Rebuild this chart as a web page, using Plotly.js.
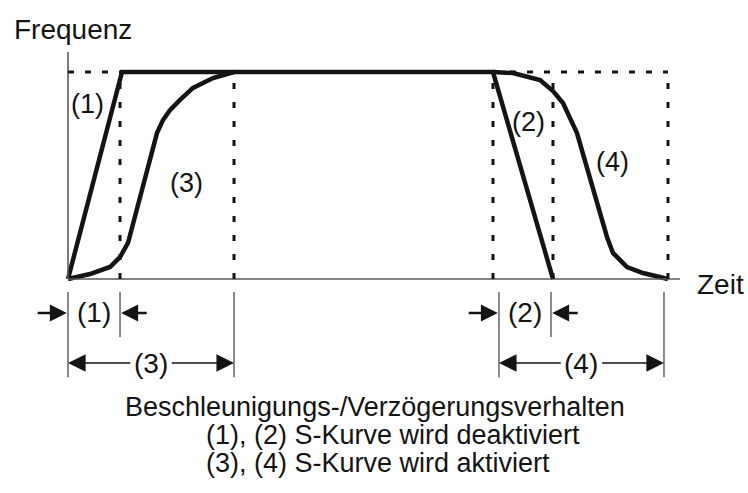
<!DOCTYPE html>
<html>
<head>
<meta charset="utf-8">
<script src="https://cdn.plot.ly/plotly-3.0.1.min.js"></script>
<style>
  html, body { margin: 0; padding: 0; background: #fff; }
  #chart { width: 748px; height: 493px; }
</style>
</head>
<body>
<div id="chart"></div>
<script>
// Time axis: 0 = start of acceleration, 10 = end of S-curve deceleration.
// Frequency axis: percent of the target frequency.

// (1) linear acceleration, plateau, (2) linear deceleration
const linTime = [0, 0.9, 7.083, 8.083];
const linFreq = [0, 100, 100, 0];

// (3) S-curve acceleration
const sAccTime = [0, 0.367, 0.7, 0.867, 1.0, 1.483, 1.583, 1.7, 1.867, 2.083, 2.417, 2.767];
const sAccFreq = [0, 2.4, 5.8, 10.6, 17.4, 70.5, 76.8, 81.6, 86.5, 92.3, 97.1, 100];

// (4) S-curve deceleration
const sDecTime = [7.083, 7.417, 7.867, 8.083, 8.25, 8.483, 8.983, 9.083, 9.317, 9.583, 10.0];
const sDecFreq = [100, 99.5, 96.1, 90.8, 85.0, 70.5, 20.3, 12.6, 5.8, 2.9, 0];

// Dotted guide lines at the end points of each ramp
const guideTimes = [0.867, 2.767, 7.083, 8.083, 10.0];
const topFreq = 100;

// Dimension markers below the time axis
const dimShort = [[0, 0.867], [7.183, 8.05]];   // (1), (2)
const dimLong = [[0, 2.767], [7.183, 9.933]];   // (3), (4)
const dimShortLabels = ['(1)', '(2)'];
const dimLongLabels = ['(3)', '(4)'];

// Curve labels
const curveLabels = ['(1)', '(3)', '(2)', '(4)'];
const curveLabelTime = [0.317, 1.983, 7.683, 9.083];
const curveLabelFreq = [84.5, 46.4, 75.8, 56.5];

const axisTitleY = 'Frequenz';
const axisTitleX = 'Zeit';
const captionLines = [
  'Beschleunigungs-/Verzögerungsverhalten',
  '(1), (2) S-Kurve wird deaktiviert',
  '(3), (4) S-Kurve wird aktiviert'
];

const FONT = 'Liberation Sans, Arial, sans-serif';
const INK = '#141414';
const AXIS = '#5a5a5a';

const shapes = [];
// axes
shapes.push({type: 'line', x0: 0, x1: 0, y0: 0, y1: 109.7, line: {color: AXIS, width: 1.6}});
shapes.push({type: 'line', x0: 0, x1: 10.2, y0: 0, y1: 0, line: {color: AXIS, width: 1.6}});
// top dashed level
shapes.push({type: 'line', x0: 0, x1: guideTimes[4], y0: topFreq, y1: topFreq,
  line: {color: INK, width: 3, dash: '6px,11px'}});
// vertical dotted guides
guideTimes.forEach(t => {
  shapes.push({type: 'line', x0: t, x1: t, y0: 0, y1: topFreq,
    line: {color: INK, width: 3, dash: '6px,13px'}});
});
// dimension extension lines
const extTop = -6.3, extShort = -28, extLong = -47.5;
dimShort.forEach(([a, b]) => {
  shapes.push({type: 'line', x0: b, x1: b, y0: extTop, y1: extShort, line: {color: AXIS, width: 1.4}});
});
dimLong.forEach(([a, b]) => {
  shapes.push({type: 'line', x0: a, x1: a, y0: extTop, y1: extLong, line: {color: AXIS, width: 1.4}});
  shapes.push({type: 'line', x0: b, x1: b, y0: extTop, y1: extLong, line: {color: AXIS, width: 1.4}});
});

const annotations = [];
// curve labels
curveLabels.forEach((txt, i) => {
  annotations.push({x: curveLabelTime[i], y: curveLabelFreq[i], text: txt, showarrow: false,
    font: {family: FONT, size: 27, color: INK}});
});
// short dimensions: arrows pointing inward from outside
const rowShort = -16.4;
dimShort.forEach(([a, b], i) => {
  annotations.push({x: (a + b) / 2, y: rowShort, text: dimShortLabels[i], showarrow: false,
    font: {family: FONT, size: 28, color: INK}});
  annotations.push({x: a - 0.02, y: rowShort, ax: a - 0.53, ay: rowShort, axref: 'x', ayref: 'y',
    text: '', showarrow: true, arrowhead: 2, arrowsize: 1.3, arrowwidth: 2.6, arrowcolor: INK, standoff: 0});
  annotations.push({x: b + 0.02, y: rowShort, ax: b + 0.47, ay: rowShort, axref: 'x', ayref: 'y',
    text: '', showarrow: true, arrowhead: 2, arrowsize: 1.3, arrowwidth: 2.6, arrowcolor: INK, standoff: 0});
});
// long dimensions: label centred, arrows pointing outward to the extension lines
const rowLong = -40.6;
dimLong.forEach(([a, b], i) => {
  const mid = (a + b) / 2;
  annotations.push({x: mid, y: rowLong, text: dimLongLabels[i], showarrow: false,
    font: {family: FONT, size: 28, color: INK}});
  annotations.push({x: a, y: rowLong, ax: mid - 0.32, ay: rowLong, axref: 'x', ayref: 'y',
    text: '', showarrow: true, arrowhead: 2, arrowsize: 2.2, arrowwidth: 1.6, arrowcolor: INK, standoff: 0});
  annotations.push({x: b, y: rowLong, ax: mid + 0.32, ay: rowLong, axref: 'x', ayref: 'y',
    text: '', showarrow: true, arrowhead: 2, arrowsize: 2.2, arrowwidth: 1.6, arrowcolor: INK, standoff: 0});
});
// axis titles
annotations.push({xref: 'paper', yref: 'paper', x: 12 / 748, y: 1 - 30 / 493, xanchor: 'left', yanchor: 'middle',
  text: axisTitleY, showarrow: false, font: {family: FONT, size: 28, color: INK}});
annotations.push({xref: 'paper', yref: 'paper', x: 695 / 748, y: 1 - 284 / 493, xanchor: 'left', yanchor: 'middle',
  text: axisTitleX, showarrow: false, font: {family: FONT, size: 28, color: INK}});
// caption
annotations.push({xref: 'paper', yref: 'paper', x: 375 / 748, y: 1 - 407 / 493, xanchor: 'center', yanchor: 'middle',
  text: captionLines[0], showarrow: false, font: {family: FONT, size: 27, color: INK}});
annotations.push({xref: 'paper', yref: 'paper', x: 204 / 748, y: 1 - 435 / 493, xanchor: 'left', yanchor: 'middle',
  text: captionLines[1], showarrow: false, font: {family: FONT, size: 27, color: INK}});
annotations.push({xref: 'paper', yref: 'paper', x: 204 / 748, y: 1 - 463 / 493, xanchor: 'left', yanchor: 'middle',
  text: captionLines[2], showarrow: false, font: {family: FONT, size: 27, color: INK}});

const lineStyle = {color: INK, width: 4.5};
const traces = [
  {x: linTime, y: linFreq, mode: 'lines', line: lineStyle, hoverinfo: 'skip'},
  {x: sAccTime, y: sAccFreq, mode: 'lines', line: lineStyle, hoverinfo: 'skip'},
  {x: sDecTime, y: sDecFreq, mode: 'lines', line: lineStyle, hoverinfo: 'skip'}
];

const layout = {
  width: 748, height: 493,
  margin: {l: 0, r: 0, t: 0, b: 0},
  paper_bgcolor: '#ffffff', plot_bgcolor: '#ffffff',
  showlegend: false,
  xaxis: {range: [-68 / 60, 680 / 60], visible: false, fixedrange: true},
  yaxis: {range: [-214 / 2.07, 279 / 2.07], visible: false, fixedrange: true},
  shapes: shapes,
  annotations: annotations
};

Plotly.newPlot('chart', traces, layout, {staticPlot: true});
</script>
</body>
</html>
